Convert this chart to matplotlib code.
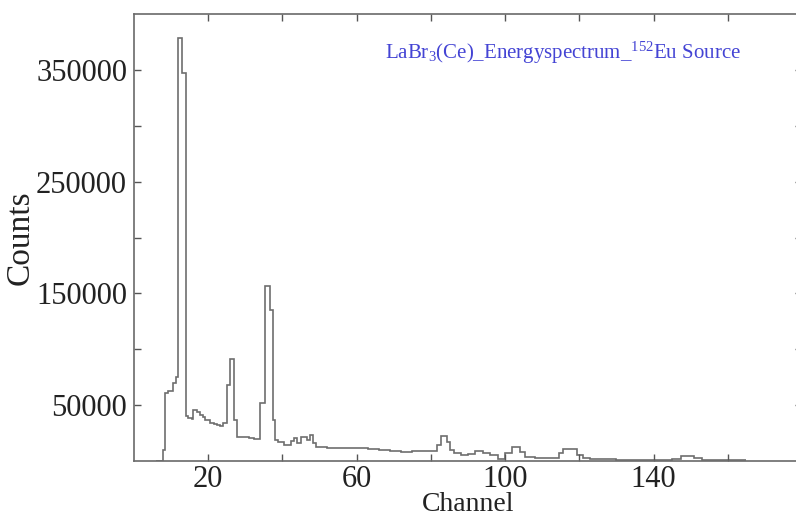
import numpy as np
import matplotlib
matplotlib.use("Agg")
import matplotlib.pyplot as plt

plt.rcParams['font.family'] = ['Liberation Serif', 'DejaVu Serif']
plt.rcParams['mathtext.fontset'] = 'custom'
plt.rcParams['mathtext.rm'] = 'Liberation Serif'
plt.rcParams['mathtext.it'] = 'Liberation Serif:italic'

# bin edges (channel) and counts
edges = [6.0, 7.7, 8.3, 9.2, 10.6, 11.3, 11.9, 12.9, 13.9, 14.6, 15.5, 16.0, 16.9,
         17.8, 18.5, 19.1, 20.5, 21.5, 22.3, 23.2, 24.0, 25.0, 25.9, 26.9, 27.8,
         29.5, 31.0, 32.3, 34.0, 35.3, 36.7, 37.4, 38.0, 38.8, 40.5, 42.3, 43.0,
         44.0, 44.9, 46.5, 47.4, 48.3, 49.0, 52.0, 56.0, 60.0, 63.0, 66.0, 69.0,
         72.0, 75.0, 78.0, 80.5, 81.6, 82.6, 84.3, 85.2, 86.2, 88.0, 90.0, 92.0,
         94.0, 96.0, 98.0, 100.0, 101.8, 104.0, 105.4, 108.0, 110.0, 114.4, 115.6,
         119.3, 121.0, 123.0, 130.0, 145.0, 147.5, 151.0, 153.0, 165.0]
counts = [0, 9800, 61000, 63000, 70000, 75500, 378600, 347000, 40200, 38400,
          37500, 45500, 44000, 41000, 39000, 36600, 34200, 33000, 32100, 31200,
          33900, 67800, 91700, 36600, 21700, 21200, 20500, 19600, 51500, 157000,
          135500, 36600, 18750, 17200, 14300, 18000, 20300, 15800, 21700, 18750,
          23200, 15800, 12800, 12000, 11300, 11600, 11000, 10200, 8600, 8300,
          9200, 8600, 9000, 14300, 22300, 17200, 9800, 6900, 5800, 6500, 9000,
          7500, 5400, 1800, 6900, 12800, 8300, 3800, 2900, 2700, 6900, 10400,
          5400, 2700, 2000, 1200, 2000, 4500, 3000, 800]

x_ticks = [20, 40, 60, 80, 100, 120, 140, 160]
x_labels = ["20", "", "60", "", "100", "", "140", ""]
y_ticks = [50000, 100000, 150000, 200000, 250000, 300000, 350000]
y_labels = ["50000", "", "150000", "", "250000", "", "350000"]

fig = plt.figure(figsize=(7.96, 5.16), dpi=100)
ax = fig.add_axes([134 / 796, 55 / 516, 668 / 796, 447 / 516])

ax.stairs(counts, edges, color='#6e6e6e', linewidth=1.2, baseline=None)

ax.set_xlim(0, 180)
ax.set_ylim(0, 400000)
ax.set_xticks(x_ticks)
ax.set_xticklabels(x_labels)
ax.set_yticks(y_ticks)
ax.set_yticklabels(y_labels)
ax.tick_params(direction='in', length=5, width=1, color='#555555',
               top=True, right=True, labelsize=22, labelcolor='#222222')
ax.tick_params(axis='x', pad=3)
ax.tick_params(axis='y', pad=5)
for s in ax.spines.values():
    s.set_color('#6a6a6a')
    s.set_linewidth(1.2)

ax.set_xlabel("Channel", fontsize=20, color='#222222', labelpad=-1.5)
ax.set_ylabel("Counts", fontsize=24, color='#222222', labelpad=0)

ax.text(0.376, 0.913, r"LaBr$_3$(Ce)_Energyspectrum_$^{152}$Eu Source",
        transform=ax.transAxes, ha='left', va='center', fontsize=15,
        color='#4444d4')

fig.savefig("out.png", dpi=100)
